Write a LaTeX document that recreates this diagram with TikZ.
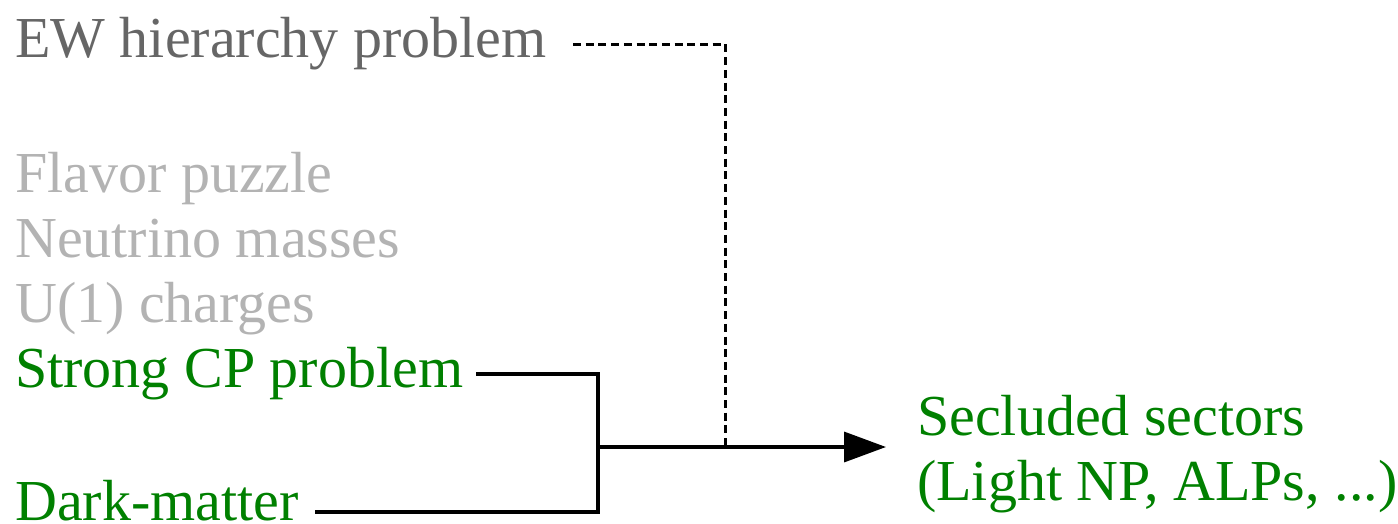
\documentclass[tikz,border=0pt]{standalone}
\usepackage{fontspec}
\setmainfont{Liberation Serif}
\usetikzlibrary{arrows.meta}
\definecolor{ewgray}{HTML}{666666}
\definecolor{lgray}{HTML}{B3B3B3}
\definecolor{dgreen}{HTML}{008000}
\begin{document}
\begin{tikzpicture}[x=1pt,y=-1pt,
  lbl/.style={anchor=base west, inner sep=0pt, font=\fontsize{58}{65}\selectfont},
  conn/.style={line width=3.5pt},
  dotconn/.style={line width=3pt, dash pattern=on 8pt off 4.7pt}]
\useasboundingbox (0,0) rectangle (1398,523);
\node[lbl, ewgray] (ew) at (15,57) {EW hierarchy problem};
\node[lbl, lgray] (flav) at (15,192) {Flavor puzzle};
\node[lbl, lgray] (neu) at (15,257) {Neutrino masses};
\node[lbl, lgray] (u1) at (15,322) {U(1) charges};
\node[lbl, dgreen] (scp) at (15,387) {Strong CP problem};
\node[lbl, dgreen] (dm) at (15,520) {Dark-matter};
\node[lbl, dgreen] (sec1) at (917,435) {Secluded sectors};
\node[lbl, dgreen] (sec2) at (917,500) {(Light NP, ALPs, ...)};
\coordinate (ewS) at (573,44);
\coordinate (scpS) at (476,374);
\coordinate (dmS) at (315,512);
\coordinate (join) at (598,447);
\coordinate (ewJ) at (725,447);
\coordinate (tip) at (886,447);
\draw[conn] (scpS) -| (join) |- (dmS);
\draw[dotconn] (ewS) -| (ewJ);
\draw[conn, -{Triangle[length=42pt,width=30pt]}] (join) -- (tip);
\end{tikzpicture}
\end{document}
